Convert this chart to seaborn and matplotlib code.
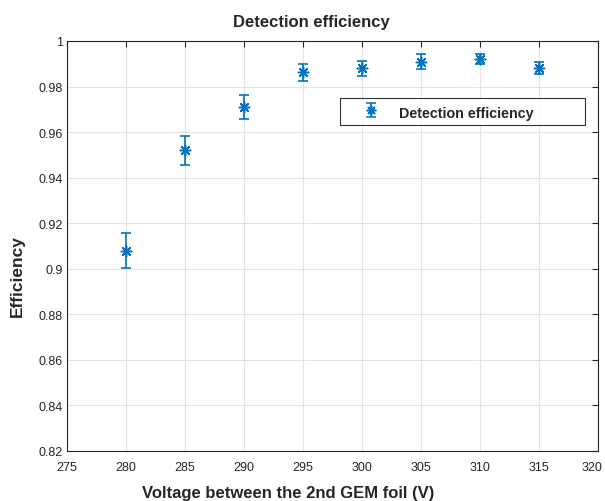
import numpy as np
import matplotlib
matplotlib.use("Agg")
import matplotlib.pyplot as plt
import matplotlib.transforms as mtransforms
import seaborn as sns

voltage = [280, 285, 290, 295, 300, 305, 310, 315]
efficiency = [0.9079, 0.9520, 0.9711, 0.9863, 0.9880, 0.9910, 0.9920, 0.9880]
err = [0.0076, 0.0064, 0.0052, 0.0038, 0.0033, 0.0033, 0.0022, 0.0026]

x_ticks = [275, 280, 285, 290, 295, 300, 305, 310, 315, 320]
y_ticks = [0.82, 0.84, 0.86, 0.88, 0.9, 0.92, 0.94, 0.96, 0.98, 1.0]
y_labels = ['0.82', '0.84', '0.86', '0.88', '0.9', '0.92', '0.94', '0.96', '0.98', '1']

sns.set_style('whitegrid')
plt.rcParams['font.family'] = ['Liberation Sans', 'DejaVu Sans']

blue = '#0072BD'
star = (8, 2, 0)
fig = plt.figure(figsize=(6.05, 5.02), dpi=100)
ax = fig.add_axes([67 / 605, 50 / 502, 531 / 605, 410 / 502])

ax.errorbar(voltage, efficiency, yerr=err, fmt='none', ecolor=blue,
            elinewidth=1.2, capsize=3.3, capthick=1.2)
sns.scatterplot(x=voltage, y=efficiency, marker=star, s=55,
                color=blue, linewidth=1.1, edgecolor=blue, ax=ax, legend=False)

# legend handle: errorbar with the asterisk marker
hh = ax.errorbar([np.nan], [np.nan], yerr=[0.01], fmt=' ', marker=star,
                 ms=7, color=blue, mec=blue, mew=1.1, elinewidth=1.2,
                 capsize=3.3, capthick=1.2)
leg = ax.legend([hh], ['Detection efficiency'], loc='lower left',
                bbox_to_anchor=(0.515, 0.794, 0.46, 0.068), mode='expand',
                frameon=True, fancybox=False, borderpad=0.38,
                prop={'weight': 'bold', 'size': 10.3}, handlelength=3.5,
                handleheight=1.4, handletextpad=0.2, borderaxespad=0)
leg.get_frame().set_edgecolor('black')
leg.get_frame().set_linewidth(0.8)

ax.set_xlim(275, 320)
ax.set_ylim(0.82, 1.0)
ax.set_xticks(x_ticks)
ax.set_yticks(y_ticks)
ax.set_yticklabels(y_labels)
ax.tick_params(direction='in', length=4, width=0.8, colors='#262626',
               labelsize=9, top=True, right=True)
ax.tick_params(axis='x', pad=7)
ax.tick_params(axis='y', pad=3)
ax.grid(True, color='#E3E3E3', linewidth=0.8)
for s in ax.spines.values():
    s.set_visible(True)
    s.set_color('#262626')
    s.set_linewidth(0.8)

# last x label sits a little inside the figure edge, as in the original
last = ax.get_xticklabels()[-1]
last.set_transform(last.get_transform() +
                   mtransforms.ScaledTranslation(-4 / 72, 0, fig.dpi_scale_trans))

ax.set_title('Detection efficiency', fontsize=12, fontweight='bold', pad=11,
             x=0.461)
ax.set_xlabel('Voltage between the 2nd GEM foil (V)', fontsize=12,
              fontweight='bold', labelpad=8.5, x=0.416)
ax.set_ylabel('Efficiency', fontsize=12.5, fontweight='bold', labelpad=10,
              y=0.428)

fig.savefig('out.png', dpi=100)
